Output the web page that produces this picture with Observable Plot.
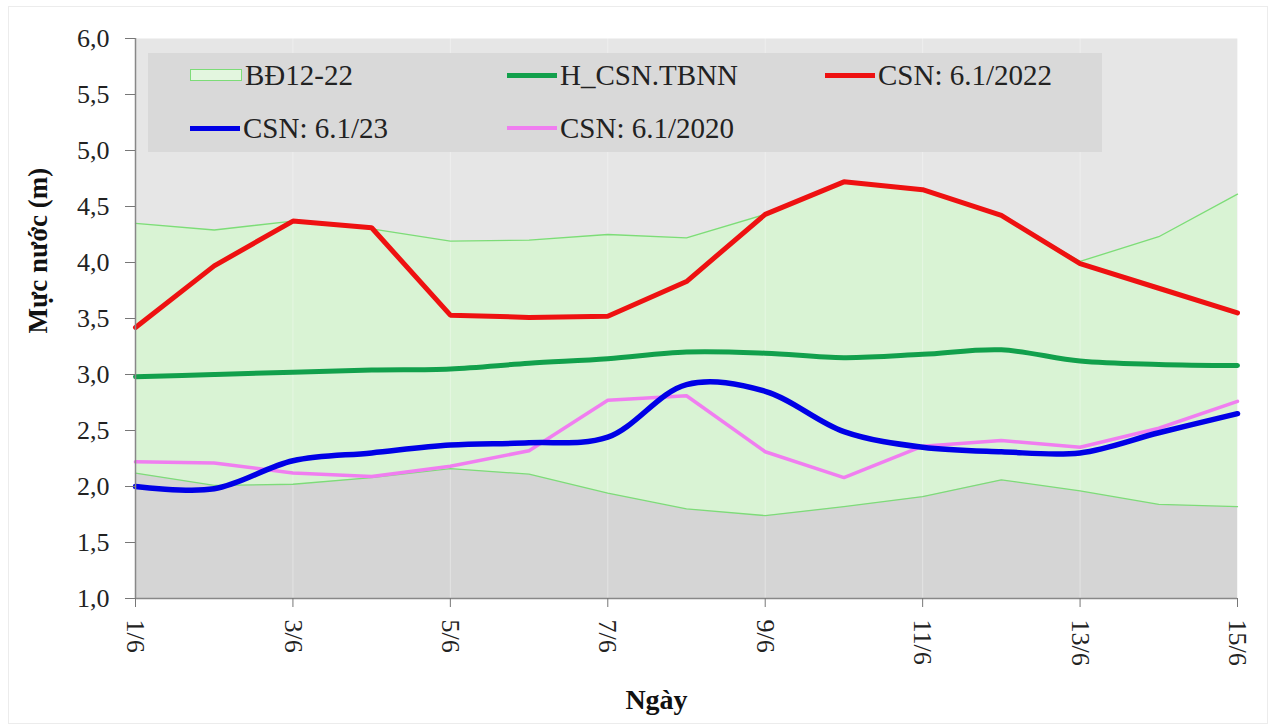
<!DOCTYPE html>
<html>
<head>
<meta charset="utf-8">
<script src="https://cdn.jsdelivr.net/npm/d3@7"></script>
<script src="https://cdn.jsdelivr.net/npm/@observablehq/plot@0.6"></script>
<style>
  body { margin: 0; background: #fff; }
  #wrap { position: relative; width: 1277px; height: 728px; font-family: "Liberation Serif", "DejaVu Serif", serif; }
  #wrap .border { position: absolute; left: 8px; top: 6px; width: 1260px; height: 718px; border: 1px solid #ececec; box-sizing: border-box; pointer-events: none; }
  #legend { position: absolute; left: 148px; top: 53px; width: 954px; height: 99px; background: #d9d9d9; }
  #legend .item { position: absolute; display: flex; align-items: center; font-size: 29px; color: #222; line-height: 1; white-space: nowrap; }
  #legend .sw { width: 50px; margin-right: 3px; }
</style>
</head>
<body>
<div id="wrap">
  <div class="border"></div>
  <div id="chart"></div>
  <div id="legend"></div>
</div>
<script>
// Days of June (1/6 … 15/6)
const days = [1, 2, 3, 4, 5, 6, 7, 8, 9, 10, 11, 12, 13, 14, 15];

// Range band BĐ12-22 (min / max water level)
const bandMax = [4.35, 4.29, 4.37, 4.30, 4.19, 4.20, 4.25, 4.22, 4.43, 4.72, 4.65, 4.42, 4.01, 4.23, 4.61];
const bandMin = [2.12, 2.01, 2.02, 2.08, 2.16, 2.11, 1.94, 1.80, 1.74, 1.82, 1.91, 2.06, 1.96, 1.84, 1.82];

// Series
const hTbnn  = [2.98, 3.00, 3.02, 3.04, 3.05, 3.10, 3.14, 3.20, 3.19, 3.15, 3.18, 3.22, 3.12, 3.09, 3.08];
const csn2022 = [3.42, 3.97, 4.37, 4.31, 3.53, 3.51, 3.52, 3.83, 4.43, 4.72, 4.65, 4.42, 3.99, 3.77, 3.55];
const csn23   = [2.00, 1.98, 2.23, 2.30, 2.37, 2.39, 2.44, 2.91, 2.85, 2.49, 2.35, 2.31, 2.30, 2.48, 2.65];
const csn2020 = [2.22, 2.21, 2.12, 2.09, 2.18, 2.32, 2.77, 2.81, 2.31, 2.08, 2.36, 2.41, 2.35, 2.52, 2.76];

// Axis ticks
const xTicks = [1, 3, 5, 7, 9, 11, 13, 15];
const yTicks = [1.0, 1.5, 2.0, 2.5, 3.0, 3.5, 4.0, 4.5, 5.0, 5.5, 6.0];

// Legend entries
const legendNames = ["BĐ12-22", "H_CSN.TBNN", "CSN: 6.1/2022", "CSN: 6.1/23", "CSN: 6.1/2020"];
const legendColors = ["#7ddc78", "#12a04c", "#ee1111", "#0000e6", "#f07ef0"];

const rows = days.map((d, i) => ({
  day: d, max: bandMax[i], min: bandMin[i],
  tbnn: hTbnn[i], y2022: csn2022[i], y23: csn23[i], y2020: csn2020[i]
}));

const comma = v => v.toFixed(1).replace(".", ",");

const chart = Plot.plot({
  width: 1277,
  height: 728,
  marginLeft: 135,
  marginRight: 40,
  marginTop: 38,
  marginBottom: 130,
  style: { fontFamily: "'Liberation Serif', 'DejaVu Serif', serif", fontSize: "26px", background: "transparent", color: "#222" },
  x: { domain: [1, 15] },
  y: { domain: [1, 6] },
  marks: [
    Plot.frame({ fill: "#e6e6e6", stroke: null }),
    Plot.areaY(rows, { x: "day", y1: 1, y2: "min", fill: "#d5d5d5" }),
    Plot.areaY(rows, { x: "day", y1: "min", y2: "max", fill: "#d9f3d4" }),
    Plot.gridX(xTicks, { stroke: "#ffffff", strokeOpacity: 0.35 }),
    Plot.lineY(rows, { x: "day", y: "max", stroke: "#7ddc78", strokeWidth: 1.3 }),
    Plot.lineY(rows, { x: "day", y: "min", stroke: "#7ddc78", strokeWidth: 1.3 }),
    Plot.lineY(rows, { x: "day", y: "tbnn", stroke: "#12a04c", strokeWidth: 5, curve: "catmull-rom" }),
    Plot.lineY(rows, { x: "day", y: "y2020", stroke: "#f07ef0", strokeWidth: 3.5 }),
    Plot.lineY(rows, { x: "day", y: "y23", stroke: "#0000e6", strokeWidth: 5.5, curve: "catmull-rom" }),
    Plot.lineY(rows, { x: "day", y: "y2022", stroke: "#ee1111", strokeWidth: 5, strokeLinejoin: "miter" }),
    Plot.ruleX([1], { stroke: "#888", strokeWidth: 1.5 }),
    Plot.ruleY([1], { stroke: "#888", strokeWidth: 1.5 }),
    Plot.axisX({
      ticks: xTicks, tickFormat: d => `${d}/6`, tickRotate: 90,
      tickSize: 9, tickPadding: 12, stroke: "#777", fill: "#222", label: null
    }),
    Plot.axisY({
      ticks: yTicks, tickFormat: comma,
      tickSize: 10, tickPadding: 16, stroke: "#777", fill: "#222", label: null
    }),
    Plot.text(["Mực nước (m)"], {
      frameAnchor: "left", rotate: -90, dx: -97, dy: 15,
      fontWeight: "bold", fontSize: 27, fill: "#111"
    }),
    Plot.text(["Ngày"], {
      frameAnchor: "bottom", dy: 110, dx: -30,
      fontWeight: "bold", fontSize: 28, fill: "#111"
    })
  ]
});
document.getElementById("chart").appendChild(chart);

// Legend box
const legend = d3.select("#legend");
const slots = [[42, 22], [359, 22], [677, 22], [42, 75], [359, 75]];
legendNames.forEach((name, i) => {
  const item = legend.append("div").attr("class", "item")
    .style("left", slots[i][0] + "px")
    .style("top", (slots[i][1] - 15) + "px")
    .style("height", "30px");
  const sw = item.append("div").attr("class", "sw");
  if (i === 0) {
    sw.style("height", "10px").style("border", `1.5px solid ${legendColors[0]}`).style("background", "#e3f6df");
  } else {
    sw.style("height", i === 4 ? "4px" : "5px").style("background", legendColors[i]);
  }
  item.append("span").text(name);
});
</script>
</body>
</html>
